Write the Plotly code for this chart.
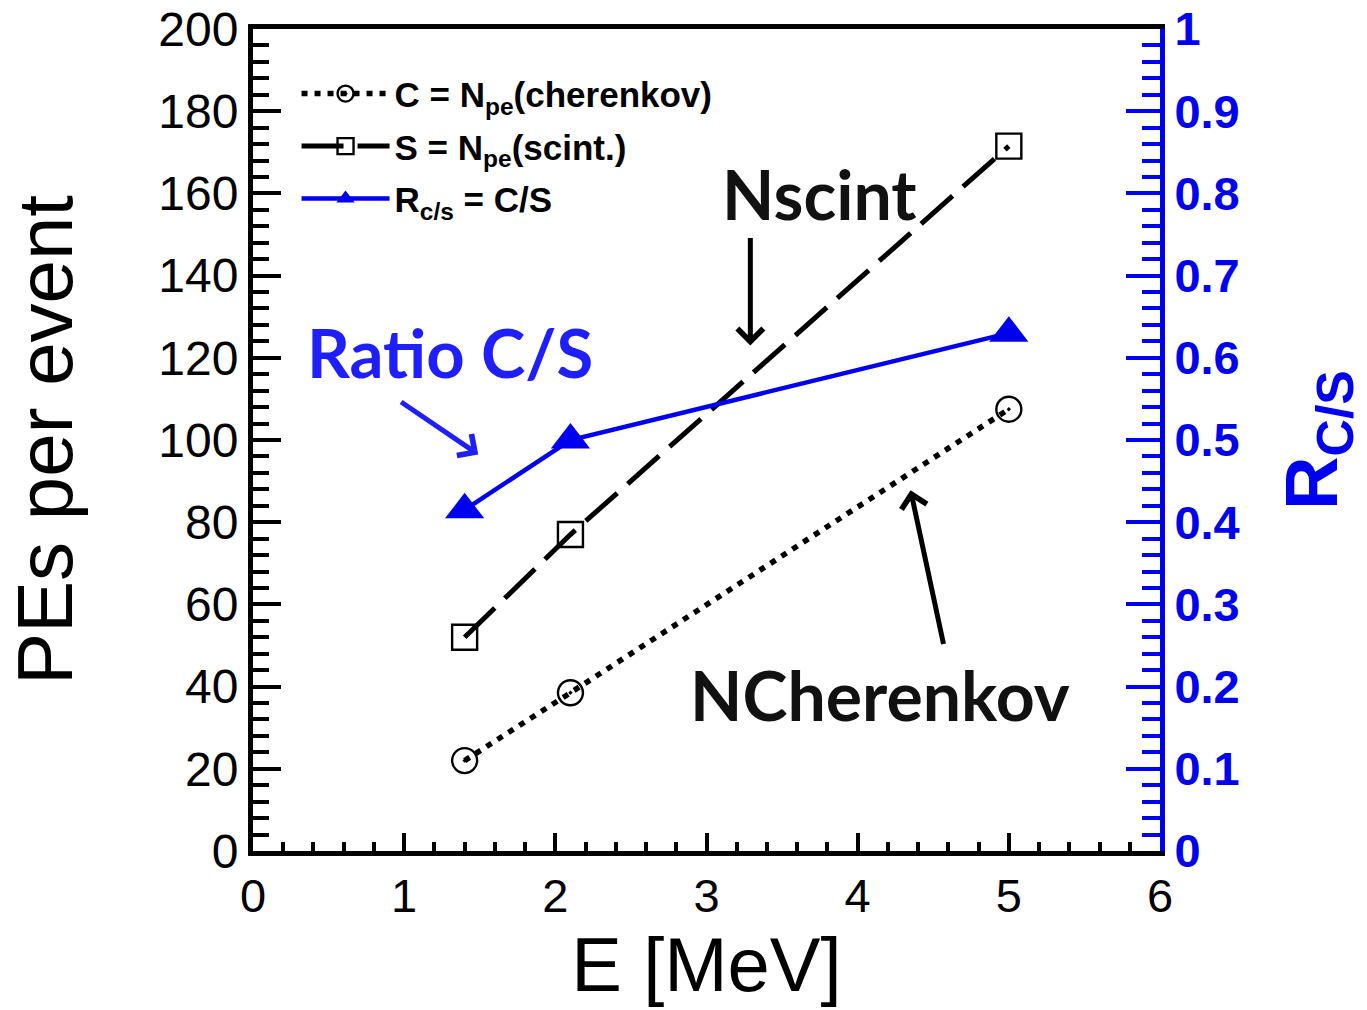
import plotly.graph_objects as go

energy = [1.4, 2.1, 5.0]
n_cherenkov = [22, 38.5, 107.5]
n_scint = [52, 77, 171.5]
ratio_cs = [0.415, 0.50, 0.63]

x_ticks = [0, 1, 2, 3, 4, 5, 6]
y_ticks = [0, 20, 40, 60, 80, 100, 120, 140, 160, 180, 200]
y2_ticks = [0, 0.1, 0.2, 0.3, 0.4, 0.5, 0.6, 0.7, 0.8, 0.9, 1]
y2_labels = ["0", "0.1", "0.2", "0.3", "0.4", "0.5", "0.6", "0.7", "0.8", "0.9", "1"]

BLUE = "#0000F0"
BLUE_TXT = "#1E1EFF"
SANS = "Liberation Sans, Arial, sans-serif"
ANN = "Lato, Open Sans, sans-serif"

fig = go.Figure()
fig.add_trace(go.Scatter(
    x=energy, y=n_cherenkov, mode="lines+markers", legendgroup="c",
    name="<b>C = N<sub>pe</sub>(cherenkov)</b>",
    line=dict(color="black", width=5.5, dash="6px,7px"),
    marker=dict(symbol="circle-open-dot", size=25, color="black", line=dict(width=2.4, color="black")),
))
fig.add_trace(go.Scatter(
    x=energy, y=n_scint, mode="lines+markers", legendgroup="s",
    name="<b>S = N<sub>pe</sub>(scint.)</b>",
    line=dict(color="black", width=5, dash="42px,14px"),
    marker=dict(symbol="square-open", size=25, color="black", line=dict(width=2.4, color="black")),
))
fig.add_trace(go.Scatter(
    x=energy, y=ratio_cs, mode="lines+markers", yaxis="y2", legendgroup="r",
    name="<b>R<sub>c/s</sub> = C/S</b>",
    line=dict(color=BLUE, width=4.5),
    marker=dict(symbol="triangle-up", size=34, color=BLUE),
))

axis_common = dict(showgrid=False, zeroline=False, showline=True, linewidth=5, automargin=False)

fig.update_layout(
    width=1367, height=1010,
    margin=dict(l=253, r=207, t=29, b=159),
    paper_bgcolor="white", plot_bgcolor="white",
    font=dict(family=SANS, color="black"),
    showlegend=True,
    legend=dict(
        x=0.048, y=0.957, xanchor="left", yanchor="top",
        bgcolor="rgba(0,0,0,0)", font=dict(size=35, family=SANS, color="black"),
        itemwidth=88, tracegroupgap=4,
    ),
    xaxis=dict(
        **axis_common, linecolor="black", mirror=True,
        range=[0, 6], tickvals=x_ticks, ticktext=[str(v) for v in x_ticks],
        ticks="inside", ticklen=18, tickwidth=4, tickcolor="black",
        minor=dict(ticks="inside", ticklen=9, tickwidth=4, dtick=0.2, tickcolor="black"),
        tickfont=dict(size=47, family=SANS, color="black"),
        title=dict(text="E [MeV]", font=dict(size=76, family=SANS, color="black"), standoff=12),
    ),
    yaxis=dict(
        **axis_common, linecolor="black",
        range=[0, 200], tickvals=y_ticks, ticktext=[str(v) for v in y_ticks],
        ticks="inside", ticklen=28, tickwidth=4, tickcolor="black",
        minor=dict(ticks="inside", ticklen=16, tickwidth=4, dtick=4, tickcolor="black"),
        tickfont=dict(size=48, family=SANS, color="black"),
        title=dict(text="PEs per event", font=dict(size=78, family=SANS, color="black"), standoff=62),
    ),
    yaxis2=dict(
        **axis_common, linecolor=BLUE, overlaying="y", side="right",
        range=[0, 1], tickvals=y2_ticks, ticktext=["<b>%s</b>" % t for t in y2_labels],
        ticks="inside", ticklen=34, tickwidth=4, tickcolor=BLUE,
        minor=dict(ticks="inside", ticklen=18, tickwidth=4, dtick=0.02, tickcolor=BLUE),
        tickfont=dict(size=47, family=SANS, color=BLUE),
        title=dict(text="<b>R<sub>C/S</sub></b>", font=dict(size=74, family=SANS, color=BLUE), standoff=48),
    ),
)

annotations = [
    dict(text="<b>Nscint</b>", x=3.75, y=160, xref="x", yref="y", showarrow=False,
         font=dict(size=68, family=ANN, color="#111111")),
    dict(text="", x=3.29, y=123, ax=3.29, ay=149.5, xref="x", yref="y", axref="x", ayref="y",
         showarrow=True, arrowhead=4, arrowsize=1, arrowwidth=5, arrowcolor="black"),
    dict(text="<b>Ratio C/S</b>", x=1.30, y=121.5, xref="x", yref="y", showarrow=False,
         font=dict(size=67, family=ANN, color=BLUE_TXT)),
    dict(text="", x=1.49, y=96.5, ax=0.97, ay=109.5, xref="x", yref="y", axref="x", ayref="y",
         showarrow=True, arrowhead=4, arrowsize=1, arrowwidth=5, arrowcolor=BLUE_TXT),
    dict(text="<b>NCherenkov</b>", x=4.15, y=38, xref="x", yref="y", showarrow=False,
         font=dict(size=68, family=ANN, color="#111111")),
    dict(text="", x=4.35, y=87.8, ax=4.57, ay=50, xref="x", yref="y", axref="x", ayref="y",
         showarrow=True, arrowhead=4, arrowsize=1, arrowwidth=5, arrowcolor="black"),
]
fig.update_layout(annotations=annotations)

fig.write_html("out.html")
